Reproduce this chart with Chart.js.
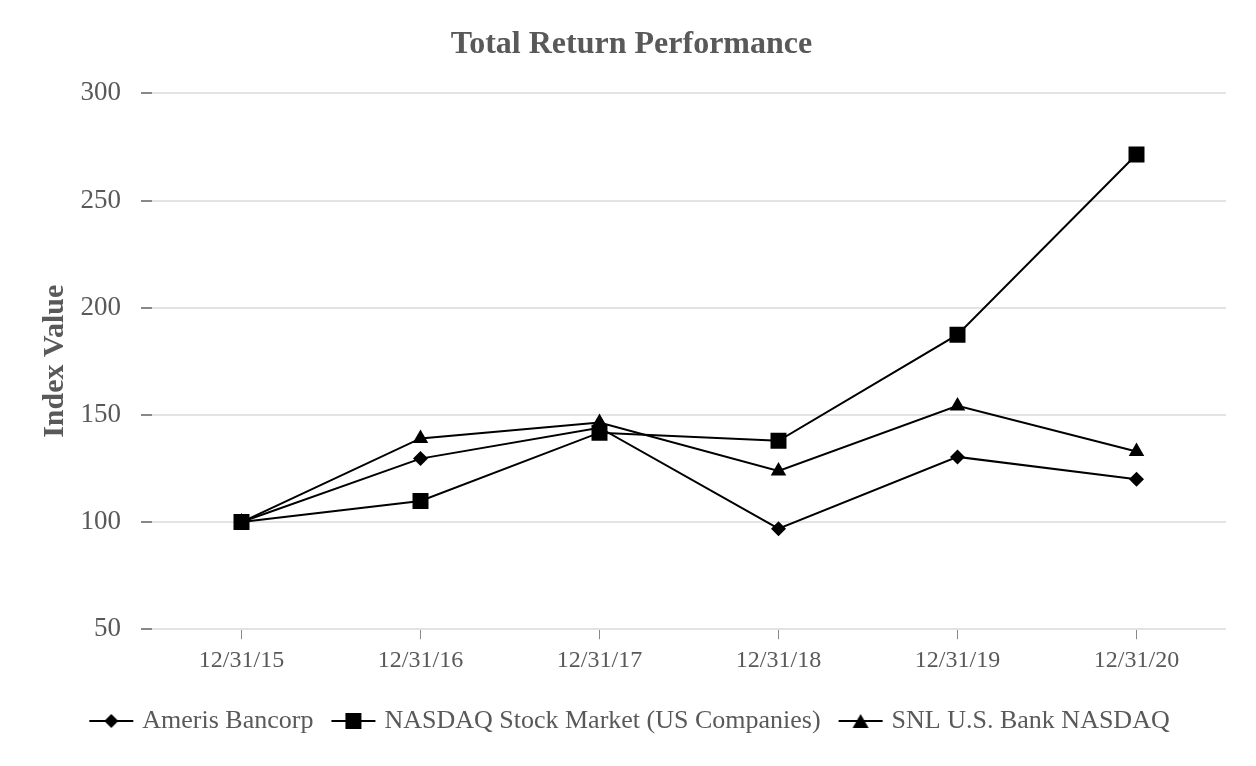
<!DOCTYPE html>
<html>
<head>
<meta charset="utf-8">
<script src="https://cdn.jsdelivr.net/npm/chart.js@4/dist/chart.umd.min.js"></script>
<style>
    html, body { margin: 0; padding: 0; background: #fff; }
    #wrap { width: 1256px; height: 766px; }
</style>
</head>
<body>
<div id="wrap"><canvas id="perfChart"></canvas></div>
<script>
const labels = ['12/31/15', '12/31/16', '12/31/17', '12/31/18', '12/31/19', '12/31/20'];
const ameris = [100, 129.6, 144, 96.9, 130.4, 120];
const nasdaq = [100, 109.8, 141.7, 137.9, 187.4, 271.5];
const snlBank = [100, 139, 146.4, 123.8, 154.2, 132.9];
const yTicks = [50, 100, 150, 200, 250, 300];

const grey = '#595959';
const serif = '"Liberation Serif", "Times New Roman", serif';

// legend icon: short line with the marker in the middle
function legendIcon(style) {
    const c = document.createElement('canvas');
    c.width = 46; c.height = 20;
    const ctx = c.getContext('2d');
    ctx.strokeStyle = '#000';
    ctx.lineWidth = 2;
    ctx.beginPath();
    ctx.moveTo(1, 10); ctx.lineTo(45, 10);
    ctx.stroke();
    ctx.fillStyle = '#000';
    ctx.beginPath();
    if (style === 'rect') {
        ctx.rect(15, 2, 16, 16);
    } else if (style === 'rectRot') {
        ctx.moveTo(23, 3); ctx.lineTo(30, 10); ctx.lineTo(23, 17); ctx.lineTo(16, 10);
    } else {
        ctx.moveTo(23, 3); ctx.lineTo(31, 17); ctx.lineTo(15, 17);
    }
    ctx.closePath();
    ctx.fill();
    return c;
}

function series(label, data, style, radius) {
    return {
        label: label,
        data: data,
        borderColor: '#000',
        backgroundColor: '#000',
        borderWidth: 2,
        pointStyle: style,
        pointRadius: radius,
        pointHoverRadius: radius,
        pointBorderWidth: 0,
        tension: 0,
        legendIcon: legendIcon(style)
    };
}

new Chart(document.getElementById('perfChart'), {
    type: 'line',
    data: {
        labels: labels,
        datasets: [
            series('Ameris Bancorp', ameris, 'rectRot', 7.5),
            series('NASDAQ Stock Market (US Companies)', nasdaq, 'rect', 11.3),
            series('SNL U.S. Bank NASDAQ', snlBank, 'triangle', 9)
        ]
    },
    options: {
        responsive: true,
        maintainAspectRatio: false,
        animation: false,
        layout: { padding: { left: 37, right: 30, top: 8, bottom: 22 } },
        plugins: {
            title: {
                display: true,
                text: 'Total Return Performance',
                color: grey,
                font: { family: serif, size: 32, weight: 'bold' },
                padding: { top: 18, bottom: 29 }
            },
            legend: {
                position: 'bottom',
                labels: {
                    color: grey,
                    font: { family: serif, size: 26 },
                    usePointStyle: true,
                    pointStyleWidth: 36,
                    padding: 22,
                    generateLabels: chart => chart.data.datasets.map((ds, i) => ({
                        text: ds.label,
                        pointStyle: ds.legendIcon,
                        fontColor: grey,
                        lineWidth: 0,
                        datasetIndex: i
                    }))
                }
            },
            tooltip: { enabled: false }
        },
        scales: {
            x: {
                offset: true,
                // a little extra room under the date labels
                afterFit: axis => { axis.height += 4; },
                grid: {
                    offset: false,
                    drawOnChartArea: false,
                    drawTicks: true,
                    tickLength: 10,
                    color: '#888'
                },
                border: { display: false },
                ticks: {
                    color: grey,
                    font: { family: serif, size: 24 },
                    padding: 7
                }
            },
            y: {
                min: 50,
                max: 300,
                afterBuildTicks: axis => { axis.ticks = yTicks.map(v => ({ value: v })); },
                // keep the plot's left edge where the original has it
                afterFit: axis => { axis.width = 115; },
                grid: {
                    color: '#e3e3e3',
                    lineWidth: 2,
                    tickLength: 11,
                    tickColor: '#888'
                },
                border: { display: false },
                ticks: {
                    color: grey,
                    font: { family: serif, size: 27 },
                    padding: 20
                },
                title: {
                    display: true,
                    text: 'Index Value',
                    color: grey,
                    font: { family: serif, size: 30, weight: 'bold' },
                    padding: { top: 0, bottom: 7 }
                }
            }
        }
    }
});
</script>
</body>
</html>
